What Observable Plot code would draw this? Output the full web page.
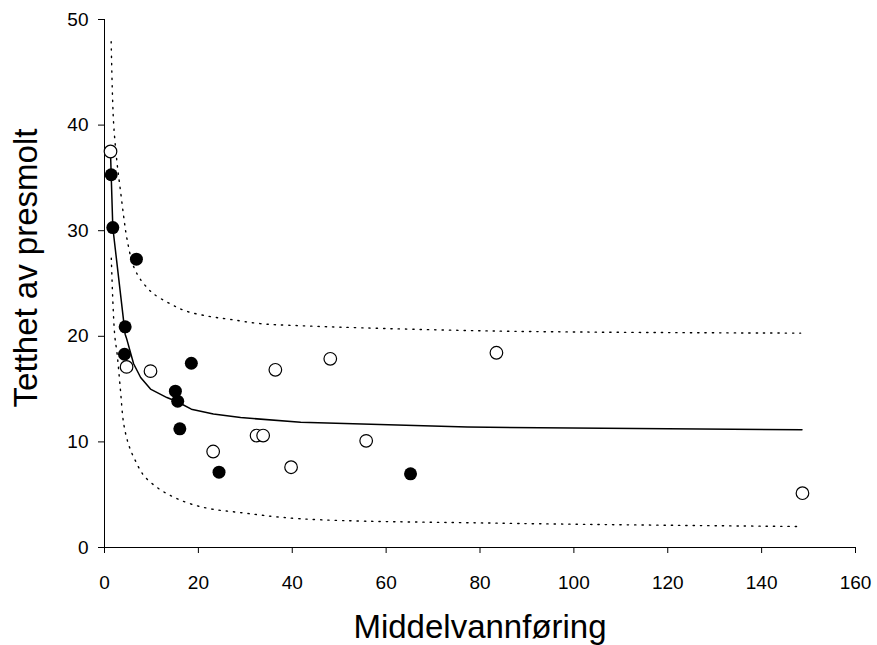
<!DOCTYPE html>
<html><head><meta charset="utf-8">
<script src="https://cdn.jsdelivr.net/npm/d3@7"></script>
<script src="https://cdn.jsdelivr.net/npm/@observablehq/plot@0.6"></script>
<style>body{margin:0;background:#fff} svg{display:block}</style>
</head><body><div id="chart"></div>
<script>
// Observed data: open circles
const openX = [1.28, 4.7, 9.8, 23.15, 32.4, 33.8, 36.4, 39.75, 48.1, 55.75, 83.5, 148.7];
const openY = [37.5, 17.1, 16.7, 9.09, 10.6, 10.6, 16.83, 7.6, 17.87, 10.1, 18.44, 5.14];
// Observed data: filled circles
const filledX = [1.43, 1.77, 4.4, 4.26, 6.8, 15.1, 15.6, 16.05, 18.5, 24.4, 65.2];
const filledY = [35.3, 30.3, 20.9, 18.3, 27.3, 14.8, 13.85, 11.24, 17.45, 7.13, 6.98];
// Fitted curve (solid)
const fitX = [1.28, 1.43, 1.77, 4.4, 4.7, 6.2, 7.7, 9.8, 13.3, 15.5, 18.5, 23.2, 29, 41.8, 77.3, 148.6];
const fitY = [37.4, 35.2, 30.3, 20.2, 19.8, 17.4, 16.1, 15.0, 14.2, 13.8, 13.1, 12.65, 12.3, 11.87, 11.4, 11.15];
// Upper prediction bound (dotted)
const upX = [1.42, 1.7, 1.98, 2.7, 3.4, 4.1, 4.8, 6.2, 7.8, 9.1, 10.5, 13.9, 17.3, 22.1, 26.8, 33.2, 41.8, 82.9, 148.3];
const upY = [47.9, 42.8, 39.9, 36.3, 33.8, 31.3, 29.2, 26.6, 25.3, 24.6, 24.0, 23.1, 22.4, 21.9, 21.6, 21.2, 21.0, 20.5, 20.3];
// Lower prediction bound (dotted)
const loX = [1.45, 1.83, 2.2, 2.7, 3.4, 4.1, 5.2, 6.6, 8.4, 11.6, 14.8, 18.3, 22.6, 28.3, 41.8, 84.4, 147.6];
const loY = [27.4, 22.8, 20.0, 18.3, 14.9, 11.7, 9.66, 8.2, 6.8, 5.56, 4.76, 4.14, 3.66, 3.34, 2.72, 2.3, 1.99];
// Axis ticks and titles
const xTicks = [0, 20, 40, 60, 80, 100, 120, 140, 160];
const yTicks = [0, 10, 20, 30, 40, 50];
const xTitle = "Middelvannføring";
const yTitle = "Tetthet av presmolt";

const toPts = (xs, ys) => xs.map((x, i) => ({x, y: ys[i]}));
const openPts = toPts(openX, openY);
const filledPts = toPts(filledX, filledY);
const fitPts = toPts(fitX, fitY);
const upPts = toPts(upX, upY);
const loPts = toPts(loX, loY);

const FONT = "Arial, 'Liberation Sans', sans-serif";
const W = 877, H = 645;
const chart = Plot.plot({
  width: W, height: H,
  marginLeft: 104, marginRight: 22, marginTop: 19, marginBottom: 98,
  style: {fontFamily: FONT, fontSize: "19px", background: "#fff", color: "#000"},
  x: {domain: [0, 160]},
  y: {domain: [0, 50]},
  marks: [
    Plot.axisX({ticks: xTicks, tickSize: 6, tickPadding: 22, fontSize: 19, label: null, stroke: "#000"}),
    Plot.axisY({ticks: yTicks, tickSize: 6, tickPadding: 10, fontSize: 19, label: null, stroke: "#000"}),
    Plot.ruleX([0], {stroke: "#000", strokeWidth: 1}),
    Plot.ruleY([0], {stroke: "#000", strokeWidth: 1}),
    Plot.line(upPts, {x: "x", y: "y", curve: "catmull-rom", stroke: "#000", strokeWidth: 1.4, strokeDasharray: "1.3 6"}),
    Plot.line(loPts, {x: "x", y: "y", curve: "catmull-rom", stroke: "#000", strokeWidth: 1.4, strokeDasharray: "1.3 6"}),
    Plot.line(fitPts, {x: "x", y: "y", stroke: "#000", strokeWidth: 1.5}),
    Plot.dot(openPts, {x: "x", y: "y", r: 6.3, stroke: "#000", strokeWidth: 1.2, fill: "#fff"}),
    Plot.dot(filledPts, {x: "x", y: "y", r: 6.5, fill: "#000", stroke: "none"})
  ]
});
document.getElementById("chart").appendChild(chart);
const svg = d3.select(chart);
svg.append("text").attr("x", 480).attr("y", 638).attr("text-anchor", "middle")
  .attr("font-size", 33).attr("font-family", FONT).attr("fill", "#000").text(xTitle);
svg.append("text").attr("transform", "translate(37,268) rotate(-90)").attr("text-anchor", "middle")
  .attr("font-size", 33).attr("font-family", FONT).attr("fill", "#000").text(yTitle);
</script>
</body></html>
